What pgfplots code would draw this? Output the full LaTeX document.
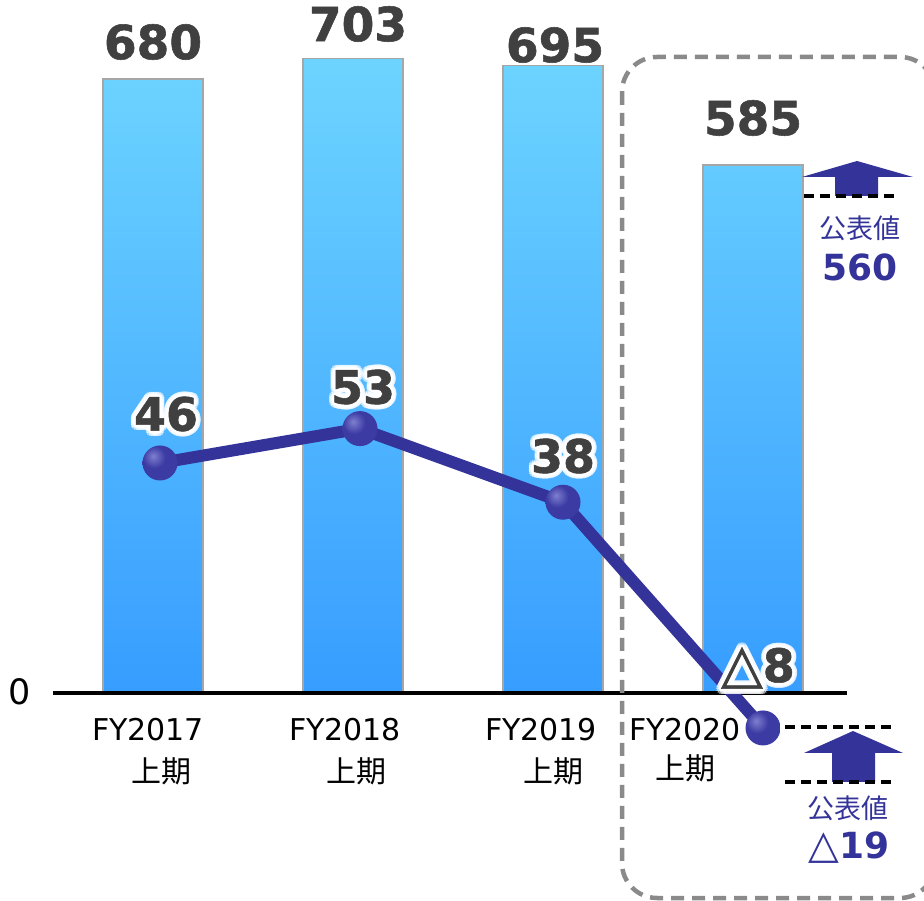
\documentclass[border=0pt]{standalone}
\usepackage{fontspec}
\setmainfont{DejaVu Sans}
\newfontfamily\jp{Noto Sans CJK JP}
\newfontface\valfont[FakeBold=1.2]{DejaVu Sans Bold}
\usepackage{pgfplots}
\pgfplotsset{compat=1.18}
\definecolor{lineblue}{HTML}{333399}
\definecolor{bartop}{HTML}{6DD4FF}
\definecolor{barbot}{HTML}{379DFF}
\definecolor{valgray}{HTML}{404040}
\definecolor{boxgray}{HTML}{8A8A8A}
\definecolor{ballhi}{HTML}{7F7FD0}
\definecolor{ballmid}{HTML}{3B3BA3}
\definecolor{ballrim}{HTML}{1E1E60}
\pgfdeclareradialshading{blueball}{\pgfpoint{-10bp}{10bp}}{color(0bp)=(ballhi); color(16bp)=(ballmid); color(48bp)=(ballmid); color(62bp)=(ballrim); color(100bp)=(ballrim)}
\pgfdeclareplotmark{blueball}{%
  \pgfpathcircle{\pgfpointorigin}{\pgfplotmarksize}%
  \pgfshadepath{blueball}{0}%
  \pgfusepath{}}
\newcommand{\fs}[1]{\fontsize{#1}{#1}\selectfont}
\newcommand{\glowlabel}[3]{%
  \foreach \a in {0,22.5,...,337.5} {\path (#1,#2) ++(\a:5) node[text=white,opacity=0.5,font=\fs{46}\valfont] {#3};}
  \foreach \a in {0,30,...,330} {\path (#1,#2) ++(\a:2.5) node[text=white,font=\fs{46}\valfont] {#3};}
  \node[text=valgray,font=\fs{46}\valfont] at (#1,#2) {#3};}
\begin{document}
\begin{tikzpicture}
\path[use as bounding box] (0,0) rectangle (924pt,900pt);
\clip (0,0) rectangle (924pt,900pt);
\begin{axis}[at={(0,0)}, anchor=south west, scale only axis, width=924pt, height=900pt,
  hide axis, xmin=-0.765, xmax=3.855, ymin=-229.3, ymax=767.7, clip=false, ybar, bar width=100pt]
\addplot[draw=black!35, line width=1.5pt, top color=bartop, bottom color=barbot]
  coordinates {(0,680) (1,703) (2,695) (3,585)};
\end{axis}
\begin{scope}[x=1pt, y=-1pt, yshift=900pt]
  % baseline
  \draw[line width=4pt] (53,693) -- (847,693);
  \node[font=\fs{35}] at (20,692) {0};
  % category labels
  \node[font=\fs{30}] at (148,730) {FY2017};
  \node[font=\fs{30}\jp] at (161,771) {上期};
  \node[font=\fs{30}] at (345,730) {FY2018};
  \node[font=\fs{30}\jp] at (356,771) {上期};
  \node[font=\fs{30}] at (541,730) {FY2019};
  \node[font=\fs{30}\jp] at (553,771) {上期};
  \node[font=\fs{30}] at (685,730) {FY2020};
  \node[font=\fs{30}\jp] at (685,768) {上期};
  % bar value labels
  \node[text=valgray,font=\fs{47}\valfont] at (153,42) {680};
  \node[text=valgray,font=\fs{47}\valfont] at (358,24) {703};
  \node[text=valgray,font=\fs{47}\valfont] at (555,45) {695};
  \node[text=valgray,font=\fs{47}\valfont] at (753,118) {585};
  % dashed box
  \draw[boxgray, line width=4.5pt, dash pattern=on 13pt off 8pt, rounded corners=35pt] (622,57) rectangle (935,898);
  % upper arrow
  \fill[lineblue] (802,177) -- (857,161) -- (913,177) -- (878,177) -- (878,196) -- (835,196) -- (835,177) -- cycle;
  \draw[line width=4pt, dash pattern=on 10pt off 6pt] (804,196) -- (900,196);
  \node[text=lineblue, font=\fs{27}\jp] at (860,228) {公表値};
  \node[text=lineblue, font=\fs{36}\bfseries] at (860,267) {560};
  % lower arrow
  \draw[line width=4pt, dash pattern=on 10pt off 6pt] (785,727) -- (895,727);
  \fill[lineblue] (804,753) -- (853,731) -- (903,753) -- (875,753) -- (875,782) -- (832,782) -- (832,753) -- cycle;
  \draw[line width=4pt, dash pattern=on 10pt off 6pt] (785,782) -- (897,782);
  \node[text=lineblue, font=\fs{27}\jp] at (848,808) {公表値};
  \node[text=lineblue, font=\fs{36}] at (849,848) {{\fs{40}△}\textbf{19}};
\end{scope}
\begin{axis}[at={(0,0)}, anchor=south west, scale only axis, width=924pt, height=900pt,
  hide axis, xmin=-0.765, xmax=3.855, ymin=-43.06, ymax=140.35, clip=false]
\addplot[lineblue, line width=12pt, line join=round, mark=blueball, mark size=17.5pt]
  coordinates {(0.035,46) (1.035,53) (2.05,38) (3.05,-8)};
\end{axis}
\begin{scope}[x=1pt, y=-1pt, yshift=900pt]
  \glowlabel{166}{414}{46}
  \glowlabel{363}{387}{53}
  \glowlabel{563}{456}{38}
  \glowlabel{758}{668}{{\mdseries\fs{54}△}8}
\end{scope}
\end{tikzpicture}
\end{document}
